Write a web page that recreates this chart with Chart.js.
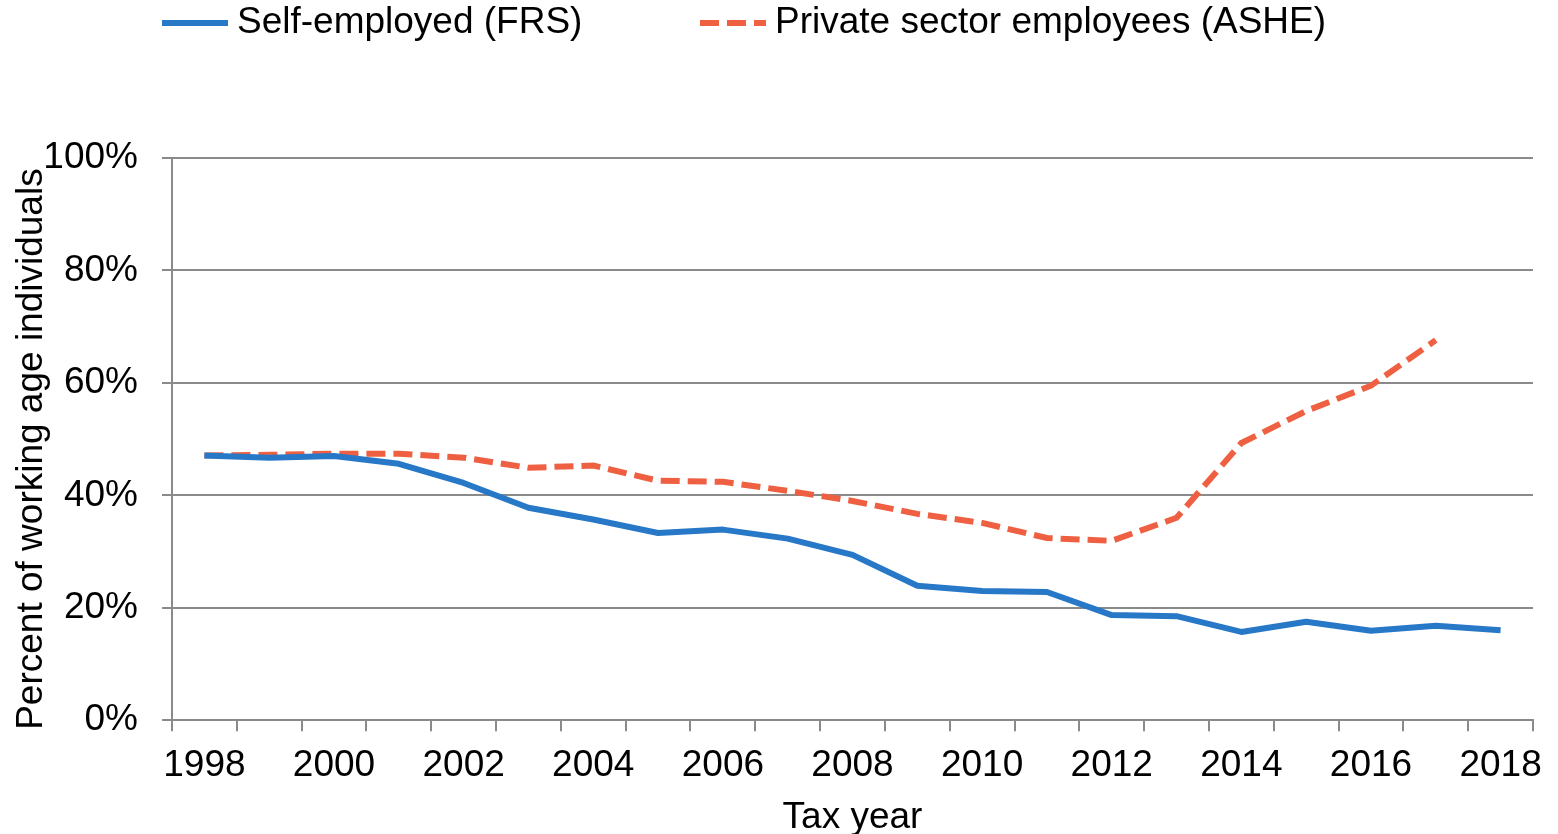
<!DOCTYPE html>
<html>
<head>
<meta charset="utf-8">
<script src="https://cdn.jsdelivr.net/npm/chart.js@4"></script>
<style>
  html, body { margin: 0; padding: 0; background: #ffffff; }
  #wrap { width: 1558px; height: 834px; }
</style>
</head>
<body>
<div id="wrap"><canvas id="chart" width="1558" height="834"></canvas></div>
<script>
// Tax years on the horizontal axis
const years = ['1998','1999','2000','2001','2002','2003','2004','2005','2006','2007',
               '2008','2009','2010','2011','2012','2013','2014','2015','2016','2017','2018'];

// Share of working-age individuals (%) per tax year
const selfEmployed = [47.1, 46.7, 47.0, 45.6, 42.2, 37.8, 35.7, 33.3, 33.9, 32.3,
                      29.4, 23.9, 23.0, 22.8, 18.7, 18.5, 15.7, 17.5, 15.9, 16.8, 16.0];
const privateEmployees = [47.1, 47.2, 47.4, 47.4, 46.7, 44.9, 45.3, 42.6, 42.4, 40.8,
                          39.0, 36.7, 35.1, 32.4, 31.9, 36.0, 49.3, 55.0, 59.5, 67.6, null];

// Labels for the series, the axes and the percentage ticks
const seriesNames = ['Self-employed (FRS)', 'Private sector employees (ASHE)'];
const xAxisTitle = 'Tax year';
const yAxisTitle = 'Percent of working age individuals';
const yTicks = [0, 20, 40, 60, 80, 100];

const FONT = 'Liberation Sans, Arial, sans-serif';
const GRID = '#8a8a8a';
const BLUE = '#2878c8';
const RED = '#ee6041';

// Legend drawn as a single row above the plot: a line sample, then the label
const rowLegend = {
  id: 'rowLegend',
  afterDraw(chart, args, opts) {
    const ctx = chart.ctx;
    ctx.save();
    ctx.font = opts.size + 'px ' + FONT;
    ctx.textBaseline = 'middle';
    ctx.fillStyle = '#000';
    chart.data.datasets.forEach((ds, i) => {
      const x = opts.starts[i];
      ctx.strokeStyle = ds.borderColor;
      ctx.lineWidth = ds.borderWidth;
      ctx.setLineDash(ds.borderDash || []);
      ctx.beginPath();
      ctx.moveTo(x, opts.y);
      ctx.lineTo(x + opts.sample, opts.y);
      ctx.stroke();
      ctx.setLineDash([]);
      ctx.fillText(ds.label, x + opts.sample + opts.gap, opts.y);
    });
    ctx.restore();
  }
};

// Vertical axis title, rotated, sitting slightly below the plot's midline
const sideTitle = {
  id: 'sideTitle',
  afterDraw(chart, args, opts) {
    const ctx = chart.ctx;
    const area = chart.chartArea;
    ctx.save();
    ctx.font = opts.size + 'px ' + FONT;
    ctx.fillStyle = '#000';
    ctx.textAlign = 'center';
    ctx.textBaseline = 'middle';
    ctx.translate(opts.x, (area.top + area.bottom) / 2 + opts.shift);
    ctx.rotate(-Math.PI / 2);
    ctx.fillText(opts.text, 0, 0);
    ctx.restore();
  }
};

new Chart(document.getElementById('chart'), {
  type: 'line',
  data: {
    labels: years,
    datasets: [
      {
        label: seriesNames[0],
        data: selfEmployed,
        borderColor: BLUE,
        backgroundColor: BLUE,
        borderWidth: 6,
        pointRadius: 0,
        tension: 0,
        borderJoinStyle: 'round'
      },
      {
        label: seriesNames[1],
        data: privateEmployees,
        borderColor: RED,
        backgroundColor: RED,
        borderWidth: 6,
        borderDash: [19, 8],
        pointRadius: 0,
        tension: 0,
        spanGaps: false
      }
    ]
  },
  plugins: [rowLegend, sideTitle],
  options: {
    responsive: false,
    animation: false,
    events: [],
    layout: { padding: { left: 0, right: 25, top: 158, bottom: 0 } },
    plugins: {
      legend: { display: false },
      tooltip: { enabled: false },
      rowLegend: { starts: [162, 700], y: 23, sample: 66, gap: 9, size: 37 },
      sideTitle: { text: yAxisTitle, x: 32, shift: 10, size: 37 }
    },
    scales: {
      x: {
        type: 'category',
        offset: true,
        grid: {
          offset: true,
          drawOnChartArea: false,
          drawTicks: true,
          tickLength: 11,
          color: GRID,
          lineWidth: 2
        },
        border: { display: true, color: GRID, width: 2 },
        ticks: {
          autoSkip: false,
          maxRotation: 0,
          minRotation: 0,
          padding: 12,
          color: '#000',
          font: { family: FONT, size: 37 },
          callback: (v, i) => (i % 2 === 0 ? years[i] : '')
        },
        title: {
          display: true,
          text: xAxisTitle,
          color: '#000',
          font: { family: FONT, size: 37, lineHeight: 0.876 },
          padding: { top: 2, bottom: 0 }
        }
      },
      y: {
        min: 0,
        max: 100,
        afterBuildTicks: (scale) => { scale.ticks = yTicks.map(v => ({ value: v })); },
        afterFit: (scale) => { scale.width = 172; },
        grid: {
          color: GRID,
          lineWidth: 2,
          drawTicks: true,
          tickLength: 10
        },
        border: { display: true, color: GRID, width: 2 },
        ticks: {
          padding: 24,
          color: '#000',
          font: { family: FONT, size: 37 },
          callback: (v) => v + '%'
        }
      }
    }
  }
});
</script>
</body>
</html>
